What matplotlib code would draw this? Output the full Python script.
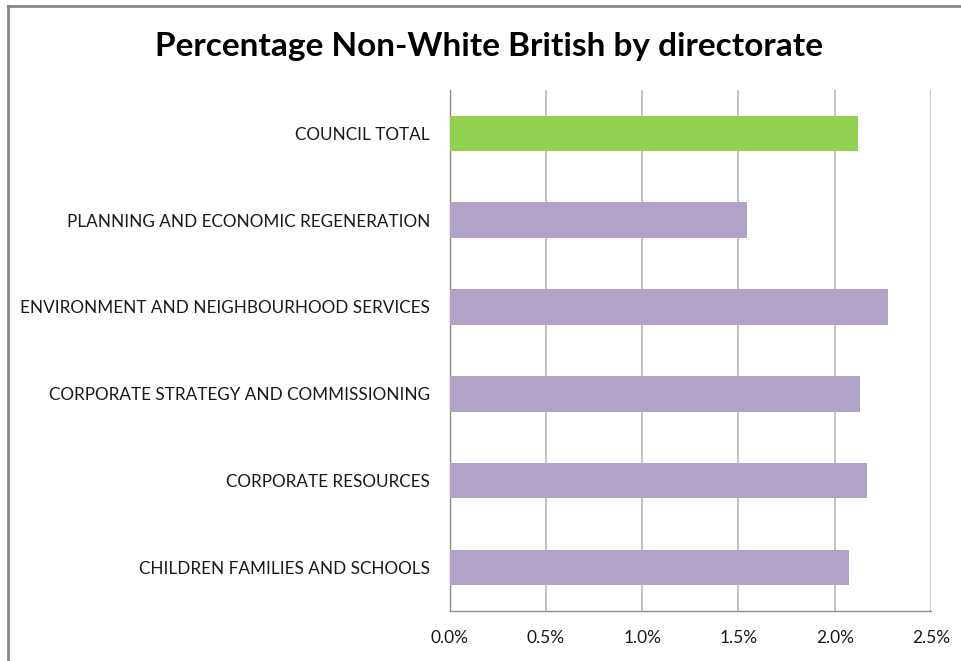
import matplotlib.pyplot as plt
from matplotlib.lines import Line2D
from matplotlib.ticker import FuncFormatter, MultipleLocator

# Directorates, bottom to top as they appear on the chart
directorates = [
    "CHILDREN FAMILIES AND SCHOOLS",
    "CORPORATE RESOURCES",
    "CORPORATE STRATEGY AND COMMISSIONING",
    "ENVIRONMENT AND NEIGHBOURHOOD SERVICES",
    "PLANNING AND ECONOMIC REGENERATION",
    "COUNCIL TOTAL",
]
pct_non_white = [2.074, 2.169, 2.130, 2.275, 1.546, 2.119]
bar_colours = ["#B1A2C8"] * 5 + ["#92D050"]

plt.rcParams['font.family'] = ['Lato', 'DejaVu Sans']

fig = plt.figure(figsize=(9.62, 6.61), dpi=100)
ax = fig.add_axes([0.4673, 0.0761, 0.5005, 0.7877])

ax.barh(range(len(directorates)), pct_non_white, height=0.41,
        color=bar_colours, zorder=3)

ax.set_xlim(0, 2.5)
ax.set_ylim(-0.5, len(directorates) - 0.5)
ax.xaxis.set_major_locator(MultipleLocator(0.5))
ax.xaxis.set_major_formatter(FuncFormatter(lambda v, _: f"{v:.1f}%"))
ax.set_yticks(range(len(directorates)))
ax.set_yticklabels(directorates, fontsize=12.3, color="#1a1a1a")

ax.grid(axis='x', color="#BEBEBE", linewidth=1.3, zorder=0)
ax.tick_params(axis='both', length=0)
ax.tick_params(axis='x', labelsize=12.5, pad=14, colors="#1a1a1a")
ax.tick_params(axis='y', pad=14)

for side in ['top', 'right']:
    ax.spines[side].set_visible(False)
for side in ['left', 'bottom']:
    ax.spines[side].set_color("#8C8C8C")
    ax.spines[side].set_linewidth(1.0)

fig.text(0.508, 0.929, "Percentage Non-White British by directorate",
         ha='center', va='center', fontsize=24, fontweight='bold')

# chart frame (only the top and left edges fall inside the image)
fig.add_artist(Line2D([8 / 962, 8 / 962], [0, 1 - 6 / 661],
                      transform=fig.transFigure, color="#888888", linewidth=2))
fig.add_artist(Line2D([8 / 962, 1], [1 - 6 / 661, 1 - 6 / 661],
                      transform=fig.transFigure, color="#888888", linewidth=2))

plt.savefig('out.png', dpi=100)
